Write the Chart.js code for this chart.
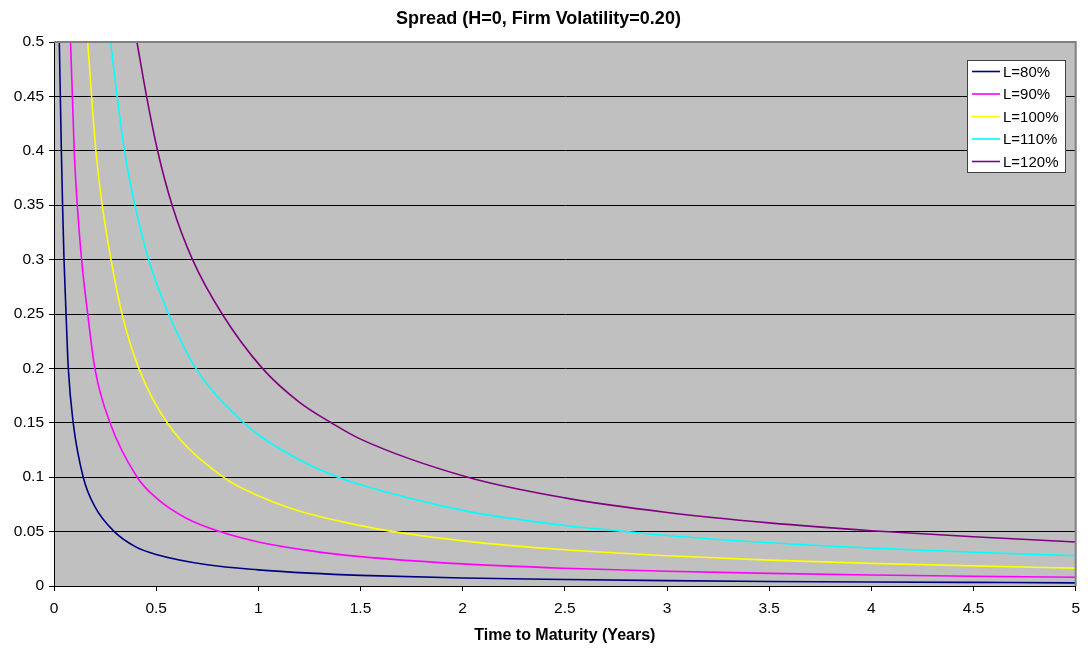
<!DOCTYPE html>
<html>
<head>
<meta charset="utf-8">
<script src="https://cdn.jsdelivr.net/npm/chart.js@4.4.1/dist/chart.umd.min.js"></script>
<style>
  body { margin: 0; background: #fff; }
  #wrap { width: 1088px; height: 653px; }
</style>
</head>
<body>
<div id="wrap"><canvas id="spreadChart"></canvas></div>
<script>
// values (time in years, spread)
var t80 = [0.026, 0.031, 0.036, 0.042, 0.049, 0.059, 0.070, 0.094, 0.143, 0.2, 0.295, 0.4, 0.5, 0.75, 1, 1.25, 1.5, 2, 2.5, 3, 3.5, 4, 4.5, 5];
var s80 = [0.5, 0.45, 0.4, 0.35, 0.3, 0.25, 0.2, 0.15, 0.1, 0.073, 0.05, 0.036, 0.029, 0.0195, 0.0148, 0.0118, 0.0098, 0.0074, 0.006, 0.0049, 0.0042, 0.0037, 0.0033, 0.0029];

var t90 = [0.081, 0.090, 0.099, 0.114, 0.135, 0.165, 0.200, 0.274, 0.407, 0.5, 0.65, 0.811, 1, 1.25, 1.5, 2, 2.5, 3, 3.5, 4, 4.5, 5];
var s90 = [0.5, 0.45, 0.4, 0.35, 0.3, 0.25, 0.2, 0.15, 0.1, 0.081, 0.062, 0.05, 0.0405, 0.0325, 0.027, 0.0203, 0.0163, 0.0136, 0.0116, 0.0101, 0.009, 0.0081];

var t100 = [0.165, 0.184, 0.205, 0.236, 0.279, 0.333, 0.415, 0.554, 0.828, 1, 1.2, 1.5, 1.66, 2, 2.5, 3, 3.5, 4, 4.5, 5];
var s100 = [0.5, 0.45, 0.4, 0.35, 0.3, 0.25, 0.2, 0.15, 0.1, 0.083, 0.069, 0.0555, 0.05, 0.0415, 0.0333, 0.0278, 0.0238, 0.0208, 0.0185, 0.0164];

var t110 = [0.277, 0.309, 0.345, 0.396, 0.463, 0.561, 0.694, 0.929, 1, 1.2, 1.39, 1.5, 2, 2.5, 2.8, 3, 3.5, 4, 4.5, 5];
var s110 = [0.5, 0.45, 0.4, 0.35, 0.3, 0.25, 0.2, 0.15, 0.139, 0.116, 0.1, 0.093, 0.0695, 0.0556, 0.05, 0.0464, 0.0397, 0.0348, 0.031, 0.0278];

var t120 = [0.406, 0.453, 0.507, 0.578, 0.678, 0.823, 1.02, 1.2, 1.357, 1.5, 2.025, 2.5, 3, 3.5, 4, 4.5, 5];
var s120 = [0.5, 0.45, 0.4, 0.35, 0.3, 0.25, 0.2, 0.169, 0.15, 0.135, 0.1, 0.081, 0.0676, 0.058, 0.0508, 0.0452, 0.0405];

var seriesLabels = ["L=80%", "L=90%", "L=100%", "L=110%", "L=120%"];
var seriesColors = ["#000080", "#FF00FF", "#FFFF00", "#00FFFF", "#800080"];

function toPoints(ts, vs) {
    return ts.map(function(t, i) { return { x: t, y: vs[i] }; });
}

var allT = [t80, t90, t100, t110, t120];
var allS = [s80, s90, s100, s110, s120];

var datasets = seriesLabels.map(function(label, i) {
    return {
        label: label,
        data: toPoints(allT[i], allS[i]),
        borderColor: seriesColors[i],
        borderWidth: 1.6,
        pointRadius: 0,
        fill: false,
        cubicInterpolationMode: 'monotone'
    };
});

var fontFamily = "'Liberation Sans', Arial, sans-serif";

// gray plot background and border
var plotArea = {
    id: 'plotArea',
    beforeDraw: function(chart) {
        var a = chart.chartArea;
        var ctx = chart.ctx;
        ctx.save();
        ctx.fillStyle = '#C0C0C0';
        ctx.fillRect(a.left, a.top, a.right - a.left, a.bottom - a.top);
        ctx.restore();
    },
    afterDatasetsDraw: function(chart) {
        var a = chart.chartArea;
        var ctx = chart.ctx;
        ctx.save();
        ctx.strokeStyle = '#808080';
        ctx.lineWidth = 2;
        ctx.beginPath();
        ctx.moveTo(a.left, a.top);
        ctx.lineTo(a.right, a.top);
        ctx.lineTo(a.right, a.bottom);
        ctx.stroke();
        ctx.restore();
    }
};

// legend box inside the plot, top right
var boxLegend = {
    id: 'boxLegend',
    afterDraw: function(chart) {
        var ctx = chart.ctx;
        var x = 967, y = 60, w = 98, h = 112;
        ctx.save();
        ctx.fillStyle = '#fff';
        ctx.fillRect(x, y, w, h);
        ctx.strokeStyle = '#404040';
        ctx.lineWidth = 1;
        ctx.strokeRect(x + 0.5, y + 0.5, w, h);
        ctx.font = "15px " + fontFamily;
        ctx.textBaseline = 'middle';
        chart.data.datasets.forEach(function(ds, i) {
            var ry = y + 11.5 + i * 22.5;
            ctx.strokeStyle = ds.borderColor;
            ctx.lineWidth = 1.6;
            ctx.beginPath();
            ctx.moveTo(x + 5, ry);
            ctx.lineTo(x + 33, ry);
            ctx.stroke();
            ctx.fillStyle = '#000';
            ctx.fillText(ds.label, x + 36, ry + 1);
        });
        ctx.restore();
    }
};

new Chart(document.getElementById('spreadChart'), {
    type: 'line',
    data: { datasets: datasets },
    options: {
        responsive: true,
        maintainAspectRatio: false,
        animation: false,
        layout: {
            padding: { left: 0, right: 11, top: 0, bottom: 8 }
        },
        plugins: {
            legend: { display: false },
            tooltip: { enabled: false },
            title: {
                display: true,
                text: 'Spread (H=0, Firm Volatility=0.20)',
                color: '#000',
                font: { family: fontFamily, size: 18, weight: 'bold' },
                padding: { top: 8, bottom: 12.4 }
            }
        },
        scales: {
            x: {
                type: 'linear',
                min: 0,
                max: 5,
                ticks: {
                    stepSize: 0.5,
                    color: '#000',
                    font: { family: fontFamily, size: 15.5 },
                    padding: 8,
                    maxRotation: 0,
                    callback: function(v) { return String(+v.toFixed(2)); }
                },
                grid: {
                    drawOnChartArea: false,
                    drawTicks: true,
                    tickLength: 5,
                    color: '#000'
                },
                border: { color: '#000', width: 1 },
                title: {
                    display: true,
                    text: 'Time to Maturity (Years)',
                    color: '#000',
                    font: { family: fontFamily, size: 16, weight: 'bold' },
                    padding: { top: 0, bottom: 0 }
                },
                afterFit: function(scale) { scale.height = 59; }
            },
            y: {
                type: 'linear',
                min: 0,
                max: 0.5,
                ticks: {
                    stepSize: 0.05,
                    color: '#000',
                    font: { family: fontFamily, size: 15.5 },
                    padding: 5,
                    callback: function(v) { return String(+v.toFixed(2)); }
                },
                grid: {
                    color: '#000',
                    lineWidth: 1,
                    tickLength: 5
                },
                border: { color: '#000', width: 1 },
                afterFit: function(scale) { scale.width = 54; }
            }
        }
    },
    plugins: [plotArea, boxLegend]
});
</script>
</body>
</html>
